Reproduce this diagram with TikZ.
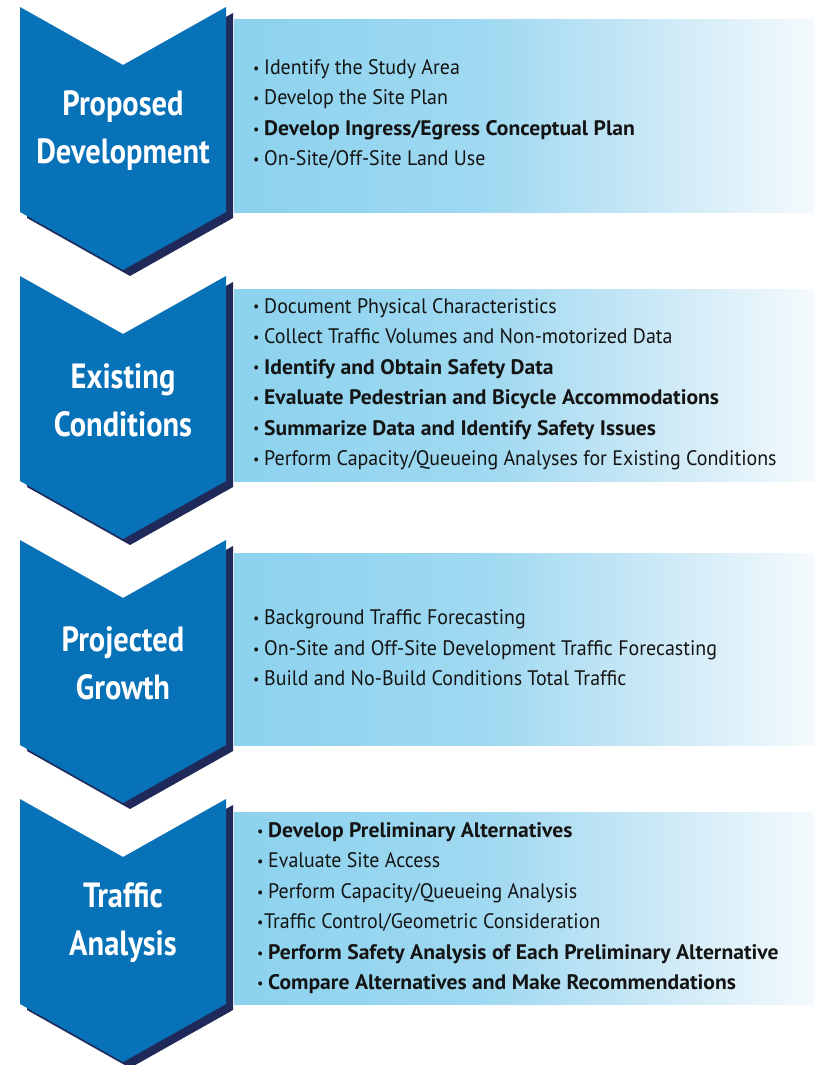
\documentclass[tikz,border=0pt]{standalone}
\usepackage{fontspec}
\usepackage{graphicx}
\newfontfamily\headfont{PT Sans}[FakeStretch=0.87]
\newfontfamily\itemfont{PT Sans}[FakeStretch=0.95]
\newfontfamily\itembold{PT Sans Bold}[FakeStretch=1.03]

\definecolor{chevblue}{RGB}{8,114,184}
\definecolor{chevshadow}{RGB}{32,42,90}
\definecolor{fadeA}{RGB}{140,210,238}
\definecolor{fadeB}{RGB}{160,217,241}
\definecolor{fadeC}{RGB}{205,233,246}
\definecolor{fadeD}{RGB}{244,250,253}
\definecolor{itemtext}{RGB}{20,20,20}

% left-to-right fade of the item panels (TikZ maps 25bp..75bp onto the path)
\pgfdeclarehorizontalshading{panelfade}{100bp}{color(0bp)=(fadeA); color(25bp)=(fadeA);
  color(47bp)=(fadeB); color(62bp)=(fadeC); color(75bp)=(fadeD); color(100bp)=(fadeD)}

\newcommand\bul{\makebox[11pt][l]{\raisebox{0.1ex}{\scalebox{0.7}{\textbullet}}}}
\newcommand\tightbul{\makebox[7pt][l]{\raisebox{0.1ex}{\scalebox{0.7}{\textbullet}}}}
\newcommand\boldtask[1]{{\itembold #1}}

\tikzset{
  chevronfill/.style={fill=chevblue},
  chevronshade/.style={fill=chevshadow},
  panel/.style={shading=panelfade},
  stagetitle/.style={text=white, inner sep=0, align=center,
    font=\headfont\bfseries\fontsize{35}{48}\selectfont},
  itemlist/.style={text=itemtext, inner sep=0, align=left, anchor=west,
    font=\itemfont\fontsize{21}{30.5}\selectfont},
}

\begin{document}
\begin{tikzpicture}[x=1pt,y=-1pt]
\useasboundingbox (0,0) rectangle (815,1065);

% the four stages: chevron with drop shade, and the panel of tasks beside it
\foreach \t/\n in {7/1,276/2,540/3,799/4}{
  \begin{scope}[shift={(20,\t)}]
    \path[panel] (214,13) rectangle (794,205);
    \fill[chevronshade] (7,6) -- (110,64) -- (213,6) -- (213,211) -- (110,269) -- (7,211) -- cycle;
    \fill[chevronfill] (0,0) -- (103,58) -- (206,0) -- (206,205) -- (103,263) -- (0,205) -- cycle;
  \end{scope}
}

\node[stagetitle] (s1) at (123,131) {Proposed\\Development};
\node[stagetitle] (s2) at (123,400) {Existing\\Conditions};
\node[stagetitle] (s3) at (123,663) {Projected\\Growth};
\node[stagetitle] (s4) at (123,923) {Traffic\\Analysis};

\node[itemlist] (l1) at (253,114) {%
  \bul Identify the Study Area\\
  \bul Develop the Site Plan\\
  \bul\boldtask{Develop Ingress/Egress Conceptual Plan}\\
  \bul On-Site/Off-Site Land Use};

\node[itemlist] (l2) at (253,384) {%
  \bul Document Physical Characteristics\\
  \bul Collect Traffic Volumes and Non-motorized Data\\
  \bul\boldtask{Identify and Obtain Safety Data}\\
  \bul\boldtask{Evaluate Pedestrian and Bicycle Accommodations}\\
  \bul\boldtask{Summarize Data and Identify Safety Issues}\\
  \bul Perform Capacity/Queueing Analyses for Existing Conditions};

\node[itemlist] (l3) at (253,648) {%
  \bul Background Traffic Forecasting\\
  \bul On-Site and Off-Site Development Traffic Forecasting\\
  \bul Build and No-Build Conditions Total Traffic};

\node[itemlist] (l4) at (257,908) {%
  \bul\boldtask{Develop Preliminary Alternatives}\\
  \bul Evaluate Site Access\\
  \bul Perform Capacity/Queueing Analysis\\
  \tightbul Traffic Control/Geometric Consideration\\
  \bul\boldtask{Perform Safety Analysis of Each Preliminary Alternative}\\
  \bul\boldtask{Compare Alternatives and Make Recommendations}};
\end{tikzpicture}
\end{document}
